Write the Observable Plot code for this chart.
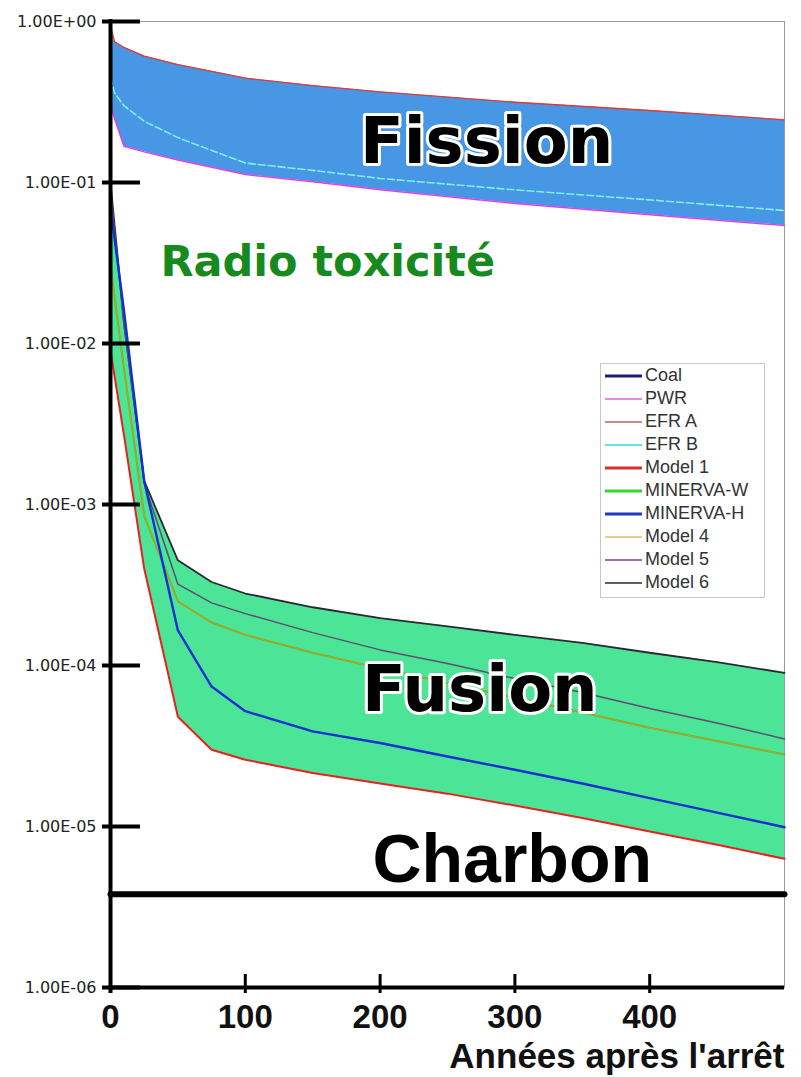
<!DOCTYPE html>
<html><head><meta charset="utf-8">
<script src="https://cdn.jsdelivr.net/npm/d3@7"></script>
<script src="https://cdn.jsdelivr.net/npm/@observablehq/plot@0.6"></script>
<style>
body{margin:0;background:#fff;}
#wrap{position:relative;width:801px;height:1077px;}
#legend{position:absolute;left:600px;top:363px;width:165px;height:235px;border:1px solid #c8c8c8;background:#fff;font:18px "Liberation Sans",Arial,sans-serif;color:#333;box-sizing:border-box;}
#legend .row{height:23px;display:flex;align-items:center;white-space:nowrap;}
#legend svg{margin-left:4px;margin-right:3px;flex:none;}
</style></head><body><div id="wrap"></div>
<script>
// ---- Fission (years after shutdown) ----
const fissionYears = [0, 3, 10, 25, 50, 100, 150, 200, 300, 400, 500];
const efrA = [0.95, 0.75, 0.69, 0.61, 0.54, 0.445, 0.40, 0.365, 0.315, 0.28, 0.245];
const efrB = [0.45, 0.36, 0.30, 0.24, 0.19, 0.132, 0.119, 0.106, 0.090, 0.078, 0.067];
const pwr  = [0.30, 0.25, 0.168, 0.155, 0.138, 0.112, 0.101, 0.090, 0.074, 0.063, 0.054];

// ---- Fusion ----
const fusionYears = [0, 10, 25, 50, 75, 100, 150, 200, 250, 300, 350, 400, 450, 500];
const model6    = [0.1, 1.35e-2, 1.4e-3, 4.5e-4, 3.3e-4, 2.8e-4, 2.3e-4, 1.97e-4, 1.75e-4, 1.55e-4, 1.38e-4, 1.2e-4, 1.05e-4, 9.0e-5];
const model5    = [0.09, 1.3e-2, 1.35e-3, 3.2e-4, 2.45e-4, 2.1e-4, 1.6e-4, 1.25e-4, 1.03e-4, 8.3e-5, 6.8e-5, 5.4e-5, 4.4e-5, 3.5e-5];
const model4    = [0.03, 7e-3, 8.5e-4, 2.5e-4, 1.85e-4, 1.55e-4, 1.2e-4, 9.6e-5, 7.8e-5, 6.3e-5, 5.1e-5, 4.1e-5, 3.4e-5, 2.8e-5];
const minervaW  = [0.03, 7e-3, 8.5e-4, 2.5e-4, 1.85e-4, 1.55e-4, 1.2e-4, 9.6e-5, 7.8e-5, 6.3e-5, 5.1e-5, 4.1e-5, 3.4e-5, 2.8e-5];
const minervaH  = [0.07, 1.6e-2, 1.4e-3, 1.65e-4, 7.4e-5, 5.2e-5, 3.9e-5, 3.3e-5, 2.72e-5, 2.25e-5, 1.85e-5, 1.5e-5, 1.22e-5, 9.9e-6];
const model1    = [9e-3, 2.7e-3, 4e-4, 4.8e-5, 3.0e-5, 2.6e-5, 2.15e-5, 1.85e-5, 1.6e-5, 1.35e-5, 1.13e-5, 9.3e-6, 7.7e-6, 6.3e-6];

// ---- Coal ----
const coalYears = [0, 500];
const coalLevel = [3.8e-6, 3.8e-6];

// ---- Axes ----
const yTicks = [1, 1e-1, 1e-2, 1e-3, 1e-4, 1e-5, 1e-6];
const xTicks = [0, 100, 200, 300, 400];
const xInnerTicks = [100, 200, 300, 400];

// ---- Legend ----
const legendNames  = ["Coal", "PWR", "EFR A", "EFR B", "Model 1", "MINERVA-W", "MINERVA-H", "Model 4", "Model 5", "Model 6"];
const legendColors = ["#1c1c78", "#e060e0", "#d05a5a", "#66e0ea", "#d83030", "#34d834", "#2236c8", "#e8b870", "#a070a0", "#606060"];
const legendWidths = [3, 1.5, 1.5, 2, 3, 3, 3, 1.5, 2, 2];

// ---- Annotations ----
const annotations = [
  {text: "Fission", year: 279, value: 0.133},
  {text: "Fusion", year: 274, value: 5.18e-5},
];

const fission = fissionYears.map((year, i) => ({year, efrA: efrA[i], efrB: efrB[i], pwr: pwr[i]}));
const fusion = fusionYears.map((year, i) => ({year, model6: model6[i], model5: model5[i], model4: model4[i], minervaW: minervaW[i], minervaH: minervaH[i], model1: model1[i]}));
const coal = coalYears.map((year, i) => ({year, value: coalLevel[i]}));

const fmt = d => {
  const e = Math.round(Math.log10(d));
  return "1.00E" + (e >= 0 ? "+" : "-") + String(Math.abs(e)).padStart(2, "0");
};

const chart = Plot.plot({
  width: 801,
  height: 1077,
  marginLeft: 110,
  marginRight: 17,
  marginTop: 21,
  marginBottom: 90,
  x: {domain: [0, 500], axis: null},
  y: {type: "log", domain: [1e-6, 1], axis: null},
  style: {background: "white"},
  marks: [
    Plot.frame({stroke: "#9a9a9a", strokeWidth: 1}),
    // Fission band
    Plot.areaY(fission, {x: "year", y1: "pwr", y2: "efrA", fill: "#4797e4"}),
    Plot.lineY(fission, {x: "year", y: "efrA", stroke: "#e03a3a", strokeWidth: 1.3}),
    Plot.lineY(fission, {x: "year", y: "pwr", stroke: "#e040e8", strokeWidth: 1.5}),
    Plot.lineY(fission, {x: "year", y: "efrB", stroke: "#7ef0f4", strokeWidth: 1.6, strokeDasharray: "7,3"}),
    // Fusion band
    Plot.areaY(fusion, {x: "year", y1: "model1", y2: "model6", fill: "#4ce598"}),
    Plot.lineY(fusion, {x: "year", y: "model6", stroke: "#2a2a36", strokeWidth: 1.8}),
    Plot.lineY(fusion, {x: "year", y: "model5", stroke: "#5e4e6e", strokeWidth: 1.5}),
    Plot.lineY(fusion, {x: "year", y: "minervaW", stroke: "#38c838", strokeWidth: 2}),
    Plot.lineY(fusion, {x: "year", y: "model4", stroke: "#e09020", strokeWidth: 1.1}),
    Plot.lineY(fusion, {x: "year", y: "minervaH", stroke: "#1530d0", strokeWidth: 2.4}),
    Plot.lineY(fusion, {x: "year", y: "model1", stroke: "#e82020", strokeWidth: 2}),
    // Coal
    Plot.lineY(coal, {x: "year", y: "value", stroke: "black", strokeWidth: 6}),
    // Annotations
    Plot.text(annotations, {x: "year", y: "value", text: "text", fontSize: 64, fontWeight: "bold", fontFamily: "DejaVu Sans", fill: "black", stroke: "white", strokeWidth: 6, paintOrder: "stroke", textAnchor: "middle", lineAnchor: "bottom"}),
    Plot.text(["Charbon"], {x: 298, y: 4.49e-6, text: d => d, fontSize: 68, fontWeight: "bold", fontFamily: "Liberation Sans", fill: "black", textAnchor: "middle", lineAnchor: "bottom"}),
    Plot.text(["Radio toxicité"], {x: 37, y: 0.0264, text: d => d, fontSize: 43, fontWeight: "bold", fontFamily: "DejaVu Sans", fill: "#178a1e", textAnchor: "start", lineAnchor: "bottom"}),
    // Axes
    Plot.ruleX([0], {y1: 1, y2: 1e-6, stroke: "black", strokeWidth: 4, insetTop: -2, insetBottom: -6}),
    Plot.ruleY([1e-6], {x1: 0, x2: 500, stroke: "black", strokeWidth: 4, insetLeft: -2}),
    Plot.tickY(yTicks, {y: d => d, stroke: "black", strokeWidth: 4, insetLeft: -8, insetRight: 644}),
    Plot.tickX(xInnerTicks, {x: d => d, stroke: "black", strokeWidth: 3, insetTop: 953, insetBottom: -6}),
    Plot.axisY({ticks: yTicks, tickSize: 0, tickPadding: 14, tickFormat: fmt, fontSize: 16, fontFamily: "DejaVu Sans", fill: "#222", label: null}),
    Plot.axisX({ticks: xTicks, tickSize: 0, tickPadding: 17, tickFormat: d => String(d), fontSize: 33, fontWeight: "bold", fontFamily: "Liberation Sans", fill: "#111", label: null}),
    Plot.text(["Années après l'arrêt"], {frameAnchor: "bottom-right", text: d => d, dy: 80, fontSize: 35, fontWeight: "bold", fontFamily: "Liberation Sans", fill: "#111", textAnchor: "end", lineAnchor: "bottom"})
  ]
});

const wrap = document.getElementById("wrap");
wrap.appendChild(chart);

// Legend (HTML overlay)
const legend = document.createElement("div");
legend.id = "legend";
legendNames.forEach((name, i) => {
  const row = document.createElement("div");
  row.className = "row";
  row.innerHTML = `<svg width="37" height="6"><line x1="0" x2="37" y1="3" y2="3" stroke="${legendColors[i]}" stroke-width="${legendWidths[i]}"/></svg><span>${name}</span>`;
  legend.appendChild(row);
});
wrap.appendChild(legend);
</script>
</body></html>
